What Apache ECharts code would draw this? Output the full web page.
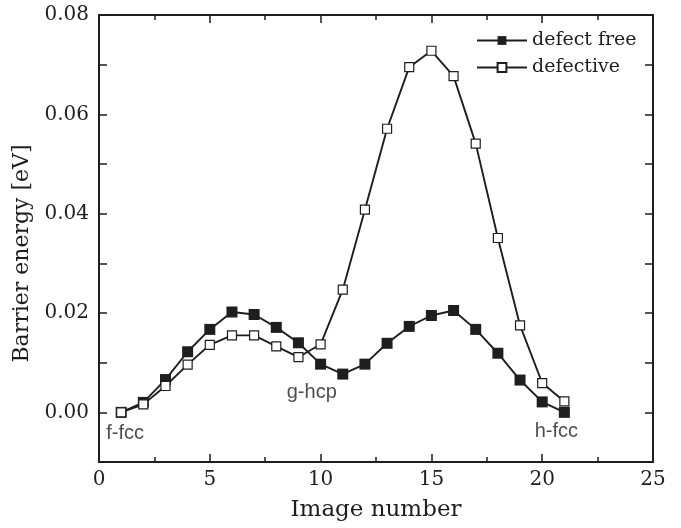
<!DOCTYPE html>
<html>
<head>
<meta charset="utf-8">
<script src="https://cdn.jsdelivr.net/npm/echarts@6/dist/echarts.min.js"></script>
<style>html,body{margin:0;padding:0;background:#fff}#c{width:681px;height:528px}</style>
</head>
<body>
<div id="c"></div>
<script>
const imageNumbers = [1,2,3,4,5,6,7,8,9,10,11,12,13,14,15,16,17,18,19,20,21];
const defectFree = [0.0000,0.0020,0.0066,0.0122,0.0167,0.0202,0.0197,0.0171,0.0140,0.0097,0.0077,0.0097,0.0139,0.0173,0.0195,0.0205,0.0167,0.0119,0.0065,0.0021,0.0000];
const defective = [0.0000,0.0016,0.0053,0.0096,0.0136,0.0155,0.0155,0.0133,0.0111,0.0137,0.0247,0.0408,0.0571,0.0695,0.0728,0.0677,0.0541,0.0351,0.0175,0.0059,0.0022];
const seriesNames = ['defect free','defective'];
const siteLabels = ['f-fcc','g-hcp','h-fcc'];
const siteX = [1, 11, 21];
const siteY = [0.0000, 0.0077, 0.0000];
const xTickLabels = ['0','5','10','15','20','25'];
const yTickLabels = ['0.00','0.02','0.04','0.06','0.08'];

const siteOffsets = [[4,21],[-31,18],[-8,19]];
const ink = '#1e1e1e';
const serif = 'DejaVu Serif';

const chart = echarts.init(document.getElementById('c'), null, {renderer:'canvas'});
const axisCommon = {
  axisLine:{show:true, onZero:false, lineStyle:{color:ink, width:2}},
  axisTick:{show:true, inside:true, length:8, lineStyle:{color:ink, width:1.5}},
  minorTick:{show:true, splitNumber:2, length:5, lineStyle:{color:ink, width:1.5}},
  splitLine:{show:false}
};
chart.setOption({
  animation:false,
  backgroundColor:'#fff',
  grid:{left:99, right:28, top:15, bottom:66, containLabel:false},
  legend:{
    data:seriesNames, orient:'vertical', left:476, top:31, itemGap:8,
    itemWidth:50, itemHeight:11, padding:0,
    textStyle:{fontFamily:serif, fontSize:19, color:ink}
  },
  xAxis:[
    Object.assign({type:'value', min:0, max:25, interval:5, position:'bottom',
      name:'Image number', nameLocation:'middle', nameGap:37,
      nameTextStyle:{fontFamily:serif, fontSize:23, color:ink},
      axisLabel:{fontFamily:serif, fontSize:20, color:ink, margin:8,
        formatter:(v)=>xTickLabels[Math.round(v/5)]}}, axisCommon),
    Object.assign({type:'value', min:0, max:25, interval:5, position:'top',
      axisLabel:{show:false}}, axisCommon)
  ],
  yAxis:[
    Object.assign({type:'value', min:-0.01, max:0.08, interval:0.01, position:'left',
      name:'Barrier energy [eV]', nameLocation:'middle', nameGap:62, nameRotate:90,
      nameTextStyle:{fontFamily:serif, fontSize:22, color:ink, padding:[0,30,0,0]},
      axisLabel:{fontFamily:serif, fontSize:20, color:ink, margin:10,
        formatter:(v)=>{const k=Math.round(v*100); return (k>=0 && k%2===0)? yTickLabels[k/2] : '';}},
      }, axisCommon, {minorTick:{show:false}}),
    Object.assign({type:'value', min:-0.01, max:0.08, interval:0.01, position:'right',
      axisLabel:{show:false}}, axisCommon, {minorTick:{show:false}})
  ],
  series:[
    {name:seriesNames[0], type:'line', xAxisIndex:0, yAxisIndex:0,
     data:imageNumbers.map((x,i)=>[x, defectFree[i]]),
     symbol:'rect', symbolSize:11, showAllSymbol:true,
     lineStyle:{color:ink, width:1.9},
     itemStyle:{color:ink, borderColor:ink, borderWidth:0}, z:3},
    {name:seriesNames[1], type:'line', xAxisIndex:0, yAxisIndex:0,
     data:imageNumbers.map((x,i)=>[x, defective[i]]),
     symbol:'rect', symbolSize:9, showAllSymbol:true,
     lineStyle:{color:ink, width:1.9},
     itemStyle:{color:'#fff', borderColor:ink, borderWidth:1.2}, z:4},
    {name:'sites', type:'scatter', xAxisIndex:0, yAxisIndex:0, symbolSize:0, silent:true,
     data:siteLabels.map((t,i)=>({name:t, value:[siteX[i], siteY[i]],
       label:{show:true, formatter:t, position:'inside', offset:siteOffsets[i],
         fontFamily:'Liberation Sans', fontSize:20, color:ink}})), z:5}
  ]
});
</script>
</body>
</html>
